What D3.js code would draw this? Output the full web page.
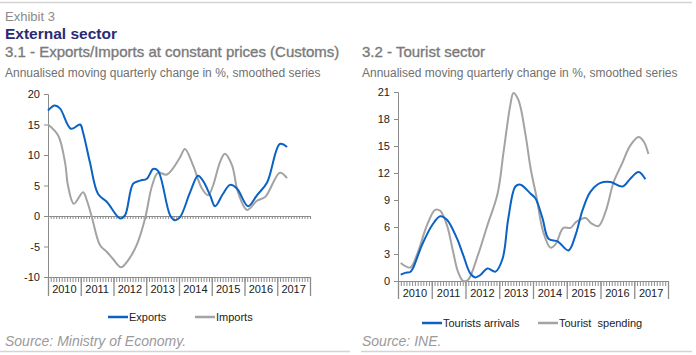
<!DOCTYPE html>
<html><head><meta charset="utf-8">
<script src="https://cdn.jsdelivr.net/npm/d3@7"></script>
<style>
body{margin:0;background:#fff;}
svg{display:block;font-family:"Liberation Sans",Arial,sans-serif;}
</style></head>
<body>
<svg id="c" width="696" height="355"></svg>
<script>
// ---- data (x = decimal year, y = %) ----
const years = ["2010","2011","2012","2013","2014","2015","2016","2017"];
const leftTicks = [20,15,10,5,0,-5,-10];
const rightTicks = [21,18,15,12,9,6,3,0];

const exportsData = [
[2010.00,17.3],[2010.21,18.1],[2010.37,17.6],[2010.70,14.3],[2010.98,15.0],[2011.07,13.7],
[2011.28,8.8],[2011.53,3.6],[2011.80,2.3],[2012.20,-0.4],[2012.35,0.1],[2012.60,5.3],
[2012.81,5.8],[2013.02,6.1],[2013.21,7.7],[2013.36,7.4],[2013.73,0.1],[2013.88,-0.7],
[2014.03,-0.2],[2014.34,3.9],[2014.58,6.6],[2014.73,5.8],[2014.95,3.4],[2015.10,1.6],
[2015.34,3.6],[2015.56,5.1],[2015.77,4.5],[2016.11,1.6],[2016.38,3.4],[2016.69,5.5],
[2017.08,11.8],[2017.30,11.3]];
const importsData = [
[2010.00,15.0],[2010.31,13.2],[2010.52,8.8],[2010.61,5.0],[2010.79,2.0],[2011.07,3.9],
[2011.19,2.5],[2011.34,-0.2],[2011.59,-4.8],[2011.80,-5.9],[2011.98,-7.0],[2012.23,-8.4],
[2012.44,-7.3],[2012.72,-4.6],[2012.96,-0.5],[2013.18,5.0],[2013.36,7.1],[2013.63,6.8],
[2014.03,9.6],[2014.18,11.0],[2014.43,8.3],[2014.70,4.5],[2014.89,3.4],[2015.04,5.0],
[2015.25,8.8],[2015.40,10.2],[2015.62,8.3],[2015.80,3.9],[2016.08,1.0],[2016.38,2.5],
[2016.63,3.1],[2017.08,7.1],[2017.30,6.2]];

const arrivalsData = [
[2010.08,0.7],[2010.21,0.9],[2010.36,1.0],[2010.44,1.4],[2010.71,4.0],[2011.01,6.2],
[2011.25,7.2],[2011.45,6.8],[2011.75,4.7],[2011.93,2.9],[2012.14,0.85],[2012.29,0.4],
[2012.44,0.67],[2012.65,1.4],[2012.89,1.04],[2013.10,2.5],[2013.27,7.0],[2013.48,10.5],
[2013.63,10.7],[2013.93,9.7],[2014.07,9.2],[2014.28,7.0],[2014.46,4.7],[2014.73,4.4],
[2015.05,3.4],[2015.26,5.1],[2015.47,7.9],[2015.70,9.9],[2016.00,10.9],[2016.30,11.0],
[2016.65,10.5],[2016.89,11.4],[2017.13,12.1],[2017.33,11.3]];
const spendingData = [
[2010.08,2.0],[2010.36,1.5],[2010.56,2.9],[2010.86,6.2],[2011.10,7.9],[2011.25,7.8],
[2011.45,6.2],[2011.63,3.3],[2011.78,1.0],[2011.93,0.0],[2012.07,0.1],[2012.37,2.9],
[2012.65,6.2],[2012.95,9.7],[2013.13,14.4],[2013.33,19.6],[2013.42,20.9],[2013.57,20.1],
[2013.78,16.2],[2013.93,12.5],[2014.10,9.4],[2014.30,5.5],[2014.52,3.7],[2014.67,4.1],
[2014.90,5.9],[2015.11,5.9],[2015.29,6.6],[2015.56,7.0],[2015.73,6.4],[2015.94,6.1],
[2016.15,7.7],[2016.39,11.0],[2016.62,12.9],[2016.89,15.1],[2017.13,16.0],[2017.28,15.5],
[2017.42,14.1]];

const BLUE = "#0b62c4", GRAY = "#a3a3a3", AXIS = "#8c8c8c", TXT = "#222";
const svg = d3.select("#c");

// frame lines
svg.append("line").attr("x1",0).attr("x2",692).attr("y1",2.5).attr("y2",2.5).attr("stroke","#d4d4d4").attr("stroke-width",1.5);
svg.append("line").attr("x1",0).attr("x2",350).attr("y1",351.5).attr("y2",351.5).attr("stroke","#d4d4d4").attr("stroke-width",1.5);
svg.append("line").attr("x1",361).attr("x2",692).attr("y1",351.5).attr("y2",351.5).attr("stroke","#d4d4d4").attr("stroke-width",1.5);

// headings
svg.append("text").attr("x",5).attr("y",21).attr("font-size",13).attr("fill","#8a8a8a").text("Exhibit 3");
svg.append("text").attr("x",5).attr("y",39).attr("font-size",15.5).attr("font-weight","bold").attr("fill","#2b2a72").text("External sector");

function panel(o){
  const g = svg.append("g");
  g.append("text").attr("x",o.tx).attr("y",57).attr("font-size",15).attr("fill","#7a7a7a")
    .attr("stroke","#7a7a7a").attr("stroke-width",0.35).text(o.title);
  g.append("text").attr("x",o.tx).attr("y",77).attr("font-size",12).attr("fill","#707070").text(o.sub);
  const x = d3.scaleLinear().domain([2010,2018]).range([o.x0,o.x1]);
  const y = d3.scaleLinear().domain(o.ydom).range(o.yr);
  // y axis
  const ya = d3.axisLeft(y).tickValues(o.ticks).tickSize(4).tickPadding(4).tickFormat(d=>String(d));
  const yg = g.append("g").attr("transform",`translate(${o.x0},0)`).call(ya);
  yg.select(".domain").attr("stroke",AXIS);
  yg.selectAll(".tick line").attr("stroke",AXIS);
  yg.selectAll("text").attr("font-size",11).attr("fill",TXT).attr("font-family","Liberation Sans, Arial, sans-serif");
  const months = d3.range(0,97).map(i=>2010+i/12);
  // zero line with monthly ticks (left panel)
  if(o.zero){
    const zg = g.append("g").attr("transform",`translate(0,${y(0)})`)
      .call(d3.axisBottom(x).tickValues(months).tickSize(3).tickFormat(""));
    zg.select(".domain").attr("stroke",AXIS);
    zg.selectAll(".tick line").attr("stroke",AXIS);
  }
  // bottom axis: monthly ticks
  const by = y(o.ydom[0]);
  const bg = g.append("g").attr("transform",`translate(0,${by})`)
    .call(d3.axisBottom(x).tickValues(months).tickSize(5).tickFormat(""));
  bg.select(".domain").attr("stroke",AXIS);
  bg.selectAll(".tick line").attr("stroke",AXIS);
  // year separators
  const yrs = d3.range(2010,2019);
  const sg = g.append("g").attr("transform",`translate(0,${by})`)
    .call(d3.axisBottom(x).tickValues(yrs).tickSize(o.sep).tickFormat(""));
  sg.select(".domain").remove();
  sg.selectAll(".tick line").attr("stroke",AXIS).attr("stroke-width",1.3);
  // year labels
  g.selectAll(".yl").data(years).join("text").attr("class","yl")
    .attr("x",d=>x(+d+0.5)).attr("y",by+o.ly).attr("text-anchor","middle")
    .attr("font-size",11).attr("fill",TXT).text(d=>d);
  // lines
  const line = d3.line().x(d=>x(d[0])).y(d=>y(d[1])).curve(d3.curveCatmullRom.alpha(0.5));
  g.append("path").datum(o.s2).attr("d",line).attr("fill","none").attr("stroke",GRAY).attr("stroke-width",2);
  g.append("path").datum(o.s1).attr("d",line).attr("fill","none").attr("stroke",BLUE).attr("stroke-width",2);
  // legend
  o.leg.forEach(l=>{
    g.append("line").attr("x1",l.x).attr("x2",l.x+20).attr("y1",o.legy).attr("y2",o.legy).attr("stroke",l.c).attr("stroke-width",2.5);
    g.append("text").attr("x",l.x+21).attr("y",o.legy+4).attr("font-size",11).attr("fill",TXT).style("white-space","pre").text(l.t);
  });
  g.append("text").attr("x",o.tx).attr("y",346).attr("font-size",14).attr("font-style","italic").attr("fill","#9a9a9a").text(o.src);
}

panel({tx:5,title:"3.1 - Exports/Imports at constant prices (Customs)",
  sub:"Annualised moving quarterly change in %, smoothed series",
  x0:48,x1:310,ydom:[-10,20],yr:[277,94],ticks:leftTicks,zero:true,sep:19,ly:16,
  s1:exportsData,s2:importsData,legy:317,
  leg:[{x:108,c:BLUE,t:"Exports"},{x:195,c:GRAY,t:"Imports"}],
  src:"Source: Ministry of Economy."});
panel({tx:362,title:"3.2 - Tourist sector",
  sub:"Annualised moving quarterly change in %, smoothed series",
  x0:398,x1:668,ydom:[0,21],yr:[281,92],ticks:rightTicks,zero:false,sep:18,ly:16,
  s1:arrivalsData,s2:spendingData,legy:323,
  leg:[{x:422,c:BLUE,t:"Tourists arrivals"},{x:538,c:GRAY,t:"Tourist  spending"}],
  src:"Source: INE."});
</script>
</body></html>
